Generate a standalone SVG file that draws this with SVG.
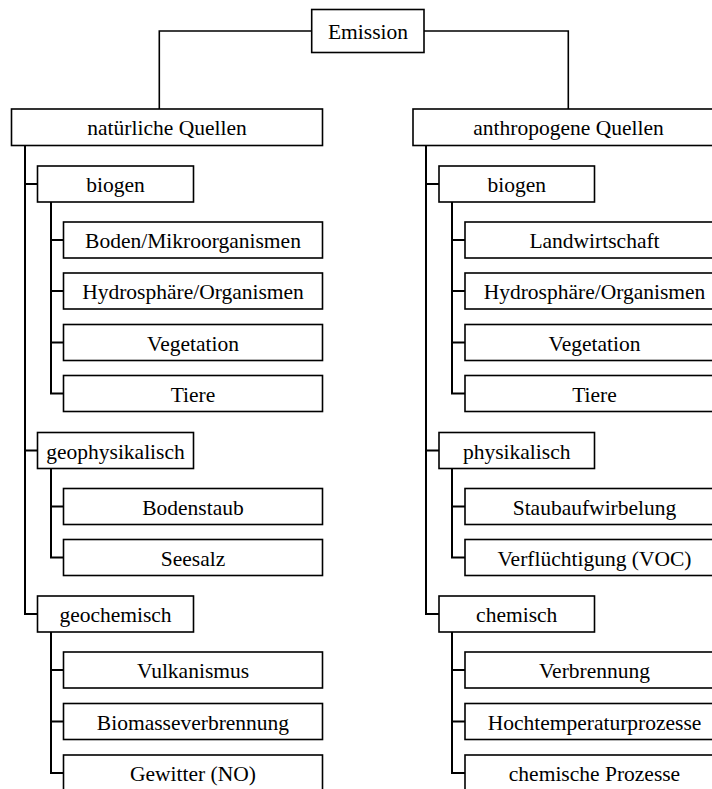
<svg xmlns="http://www.w3.org/2000/svg" width="712" height="789" viewBox="0 0 712 789">
  <defs>
    <style>
      rect.box { fill: #ffffff; stroke: #000000; stroke-width: 1.6; }
      path.link { fill: none; stroke: #000000; stroke-width: 1.6; }
      path.trunk { fill: none; stroke: #000000; stroke-width: 2; }
    </style>
  </defs>
  <rect width="712" height="789" fill="#ffffff"/>

  <!-- connectors -->
  <g id="connectors">
    <path class="link" d="M311.7,31 H159.3 V109"/>
    <path class="link" d="M424,31 H568.3 V109"/>
    <!-- left branch -->
    <path class="trunk" d="M25,145.5 V614 H37.5 M25,184 H37.5 M25,450.5 H37.5"/>
    <path class="trunk" d="M51,202 V393.5 H63.5 M51,240 H63.5 M51,291 H63.5 M51,342.5 H63.5"/>
    <path class="trunk" d="M51,468.5 V557.5 H63.5 M51,506.5 H63.5"/>
    <path class="trunk" d="M51,632 V773 H63.5 M51,670 H63.5 M51,721.5 H63.5"/>
    <!-- right branch -->
    <path class="trunk" d="M426,145.5 V614 H439 M426,184 H439 M426,450.5 H439"/>
    <path class="trunk" d="M452,202 V393.5 H465 M452,240 H465 M452,291 H465 M452,342.5 H465"/>
    <path class="trunk" d="M452,468.5 V557.5 H465 M452,506.5 H465"/>
    <path class="trunk" d="M452,632 V773 H465 M452,670 H465 M452,721.5 H465"/>
  </g>

  <!-- all labels: Times-metric serif, centred in their boxes -->
  <g id="nodes" font-family="Liberation Serif" font-size="21.5" text-anchor="middle" fill="#000000">
    <g id="emission">
      <rect class="box" x="311.7" y="9.5" width="112.3" height="43"/>
      <text x="368" y="39.3">Emission</text>
    </g>

    <!-- natural sources -->
    <g id="natuerliche-quellen">
      <rect class="box" x="11.5" y="109" width="311" height="36.5"/>
      <text x="167" y="135">natürliche Quellen</text>
    </g>
    <g id="nat-biogen">
      <rect class="box" x="37.5" y="166" width="156" height="36"/>
      <text x="115.5" y="192">biogen</text>
    </g>
    <g id="nat-boden">
      <rect class="box" x="63.5" y="222" width="259" height="36"/>
      <text x="193" y="248">Boden/Mikroorganismen</text>
    </g>
    <g id="nat-hydro">
      <rect class="box" x="63.5" y="273" width="259" height="36"/>
      <text x="193" y="299">Hydrosphäre/Organismen</text>
    </g>
    <g id="nat-vegetation">
      <rect class="box" x="63.5" y="324.5" width="259" height="36"/>
      <text x="193" y="350.5">Vegetation</text>
    </g>
    <g id="nat-tiere">
      <rect class="box" x="63.5" y="375.5" width="259" height="36"/>
      <text x="193" y="401.5">Tiere</text>
    </g>
    <g id="geophysikalisch">
      <rect class="box" x="37.5" y="432.5" width="156" height="36"/>
      <text x="115.5" y="458.5">geophysikalisch</text>
    </g>
    <g id="bodenstaub">
      <rect class="box" x="63.5" y="488.5" width="259" height="36"/>
      <text x="193" y="514.5">Bodenstaub</text>
    </g>
    <g id="seesalz">
      <rect class="box" x="63.5" y="539.5" width="259" height="36"/>
      <text x="193" y="565.5">Seesalz</text>
    </g>
    <g id="geochemisch">
      <rect class="box" x="37.5" y="596" width="156" height="36"/>
      <text x="115.5" y="622">geochemisch</text>
    </g>
    <g id="vulkanismus">
      <rect class="box" x="63.5" y="652" width="259" height="36"/>
      <text x="193" y="678">Vulkanismus</text>
    </g>
    <g id="biomasseverbrennung">
      <rect class="box" x="63.5" y="703.5" width="259" height="36"/>
      <text x="193" y="729.5">Biomasseverbrennung</text>
    </g>
    <g id="gewitter">
      <rect class="box" x="63.5" y="755" width="259" height="36"/>
      <text x="193" y="781">Gewitter (NO)</text>
    </g>

    <!-- anthropogenic sources -->
    <g id="anthropogene-quellen">
      <rect class="box" x="413" y="109" width="311" height="36.5"/>
      <text x="568.5" y="135">anthropogene Quellen</text>
    </g>
    <g id="ant-biogen">
      <rect class="box" x="439" y="166" width="155.5" height="36"/>
      <text x="516.7" y="192">biogen</text>
    </g>
    <g id="landwirtschaft">
      <rect class="box" x="465" y="222" width="259" height="36"/>
      <text x="594.5" y="248">Landwirtschaft</text>
    </g>
    <g id="ant-hydro">
      <rect class="box" x="465" y="273" width="259" height="36"/>
      <text x="594.5" y="299">Hydrosphäre/Organismen</text>
    </g>
    <g id="ant-vegetation">
      <rect class="box" x="465" y="324.5" width="259" height="36"/>
      <text x="594.5" y="350.5">Vegetation</text>
    </g>
    <g id="ant-tiere">
      <rect class="box" x="465" y="375.5" width="259" height="36"/>
      <text x="594.5" y="401.5">Tiere</text>
    </g>
    <g id="physikalisch">
      <rect class="box" x="439" y="432.5" width="155.5" height="36"/>
      <text x="516.7" y="458.5">physikalisch</text>
    </g>
    <g id="staubaufwirbelung">
      <rect class="box" x="465" y="488.5" width="259" height="36"/>
      <text x="594.5" y="514.5">Staubaufwirbelung</text>
    </g>
    <g id="verfluechtigung">
      <rect class="box" x="465" y="539.5" width="259" height="36"/>
      <text x="594.5" y="565.5">Verflüchtigung (VOC)</text>
    </g>
    <g id="chemisch">
      <rect class="box" x="439" y="596" width="155.5" height="36"/>
      <text x="516.7" y="622">chemisch</text>
    </g>
    <g id="verbrennung">
      <rect class="box" x="465" y="652" width="259" height="36"/>
      <text x="594.5" y="678">Verbrennung</text>
    </g>
    <g id="hochtemperaturprozesse">
      <rect class="box" x="465" y="703.5" width="259" height="36"/>
      <text x="594.5" y="729.5">Hochtemperaturprozesse</text>
    </g>
    <g id="chemische-prozesse">
      <rect class="box" x="465" y="755" width="259" height="36"/>
      <text x="594.5" y="781">chemische Prozesse</text>
    </g>
  </g>
</svg>
